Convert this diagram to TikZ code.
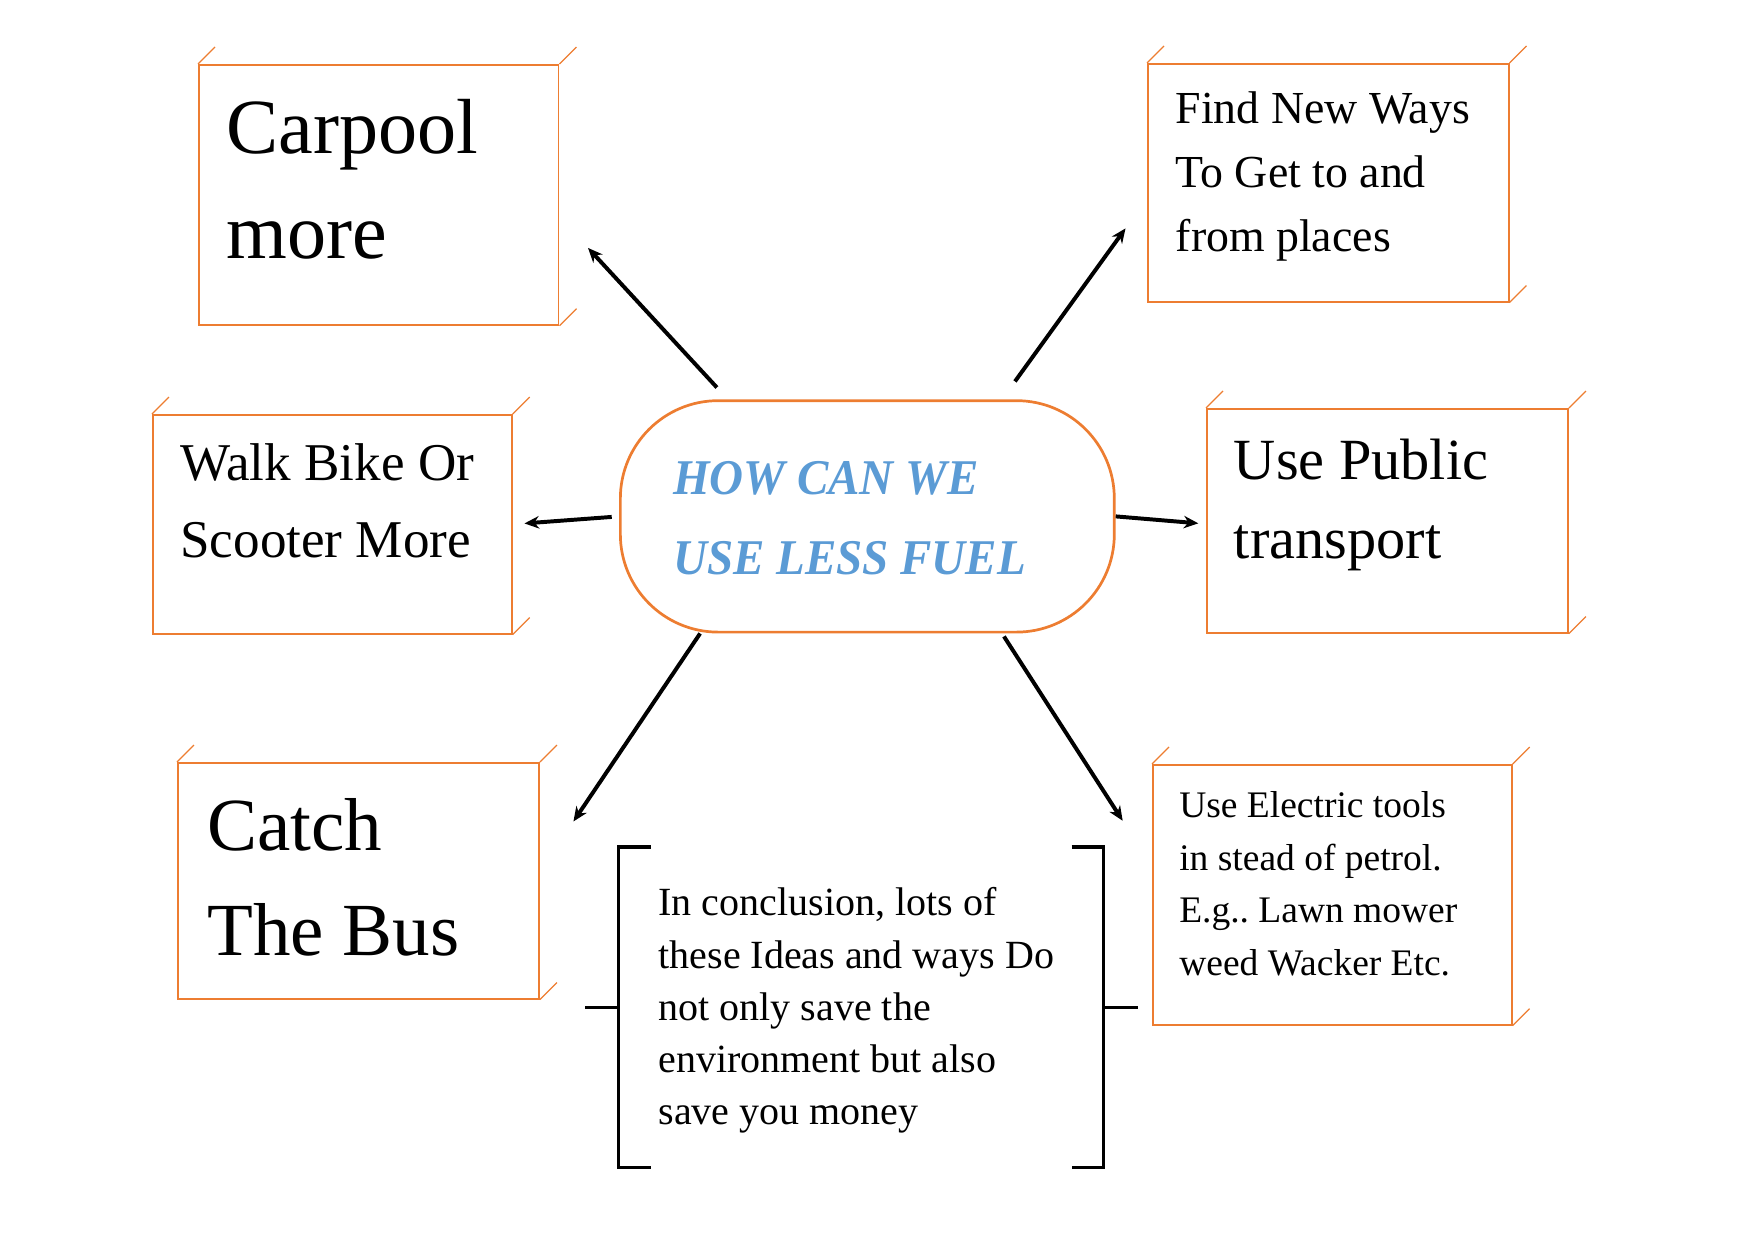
\documentclass[tikz,border=0pt]{standalone}
\usepackage{fontspec}
\setmainfont{Liberation Serif}
\newfontfamily\hubfont{Liberation Serif}[FakeStretch=0.94]
\usetikzlibrary{arrows.meta}
\definecolor{fuelorange}{HTML}{ED7D31}
\definecolor{fuelblue}{HTML}{5B9BD5}
\frenchspacing

\begin{document}
\begin{tikzpicture}[
    x=0.48pt, y=-0.48pt,
    idea/.style={
        draw=fuelorange,
        line width=0.8pt,
        anchor=north west,
        align=flush left,
        inner ysep=0pt,
    },
    tick/.style={draw=fuelorange, line width=0.6pt},
    link/.style={line width=1.9pt, -{Stealth[length=7pt,width=6pt]}},
    bracket/.style={line width=1.5pt},
]
\useasboundingbox (0,0) rectangle (1754,1240);

% centre
\node[idea, line width=1.3pt, rounded corners=47pt, inner xsep=25.4pt, text width=186.3pt,
      text height=45.1pt, text depth=66pt, text=fuelblue,
      font=\hubfont\fontsize{24}{38.4}\selectfont\bfseries\itshape] (hub) at (619,399.3) {HOW CAN WE\\USE LESS FUEL};

% ideas
\node[idea, inner xsep=13.4pt, text width=145.9pt, text height=42.7pt, text depth=82.1pt,
      font=\fontsize{37.5}{50.4}\selectfont] (carpool) at (198,64) {Carpool\\more};
\node[idea, inner xsep=13.4pt, text width=146.4pt, text height=28.8pt, text depth=85.4pt,
      font=\fontsize{22}{30.7}\selectfont] (newways) at (1147,63) {Find New Ways\\To Get to and\\from places};
\node[idea, inner xsep=13.2pt, text width=145.9pt, text height=31.7pt, text depth=73.4pt,
      font=\fontsize{25.5}{36.8}\selectfont] (walk) at (152,414) {Walk Bike Or\\Scooter More};
\node[idea, inner xsep=13pt, text width=147.4pt, text height=34.1pt, text depth=73.4pt,
      font=\fontsize{28}{37.9}\selectfont] (public) at (1206,408) {Use Public\\transport};
\node[idea, inner xsep=14.2pt, text width=145pt, text height=42.2pt, text depth=71pt,
      font=\fontsize{36}{50.4}\selectfont] (bus) at (177,762) {Catch\\The Bus};
\node[idea, inner xsep=12.7pt, text width=146.9pt, text height=25.3pt, text depth=99.5pt,
      font=\fontsize{18}{25.3}\selectfont] (electric) at (1152,764) {Use Electric tools\\in stead of petrol.\\E.g.. Lawn mower\\weed Wacker Etc.};

% conclusion
\node[idea, draw=none, inner xsep=18.8pt, text width=194.4pt, text height=32.6pt, text depth=120.5pt,
      font=\fontsize{19.2}{25.1}\selectfont] (concl) at (618.6,847) {In conclusion, lots of\\these Ideas and ways Do\\not only save the\\environment but also\\save you money};

\foreach \n in {carpool,newways,walk,public,bus,electric} {
    \draw[tick] (\n.north west) -- ++(17,-17);
    \draw[tick] (\n.north east) -- ++(17,-17);
    \draw[tick] (\n.south east) -- ++(17,-17);
}

\draw[bracket] ([xshift=32*0.48pt]concl.north west) -- (concl.north west) -- (concl.south west) -- ++(32,0);
\draw[bracket] (concl.west) -- ++(-34,0);
\draw[bracket] ([xshift=-32*0.48pt]concl.north east) -- (concl.north east) -- (concl.south east) -- ++(-32,0);
\draw[bracket] (concl.east) -- ++(34,0);

% arrows
\draw[link, shorten <=7.7pt, shorten >=20.2pt] (hub.140.8) -- (carpool.-7);
\draw[link, shorten <=10.6pt, shorten >=17.6pt] (hub.41.4) -- (newways.185);
\draw[link, shorten <=3.5pt, shorten >=5.7pt] (hub.west) -- (walk.east);
\draw[link, shorten >=3.7pt] (hub.east) -- (public.181);
\draw[link, shorten >=28.8pt] (hub.215.9) -- (bus.3.5);
\draw[link, shorten <=1.7pt, shorten >=26pt] (hub.-41.9) -- (electric.171.4);

\end{tikzpicture}
\end{document}
